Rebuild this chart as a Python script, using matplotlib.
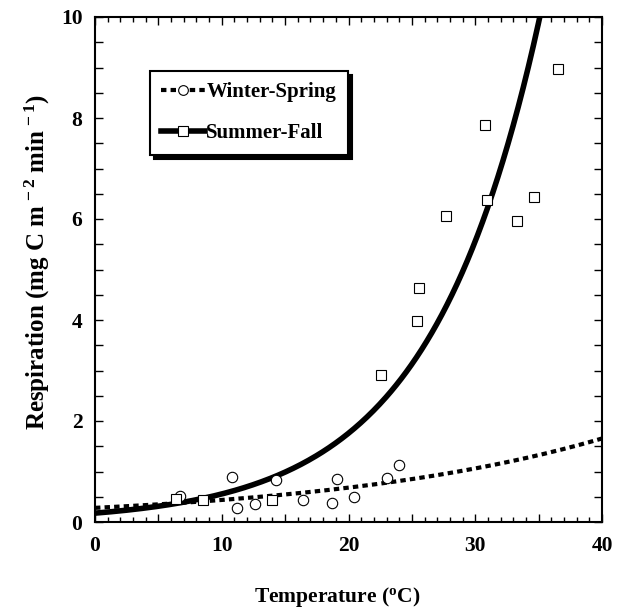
import numpy as np
import matplotlib
matplotlib.use("Agg")
import matplotlib.pyplot as plt
from matplotlib.ticker import MultipleLocator, FuncFormatter
from matplotlib.lines import Line2D

# ---- data ----
winter_temp = [6.7, 10.8, 11.2, 12.6, 14.3, 16.4, 18.7, 19.1, 20.4, 23.0, 24.0]
winter_resp = [0.51, 0.90, 0.28, 0.35, 0.835, 0.43, 0.37, 0.85, 0.50, 0.87, 1.12]

summer_temp = [6.4, 8.5, 14.0, 22.6, 25.4, 25.6, 27.7, 30.8, 30.9, 33.3, 34.6, 36.5]
summer_resp = [0.45, 0.43, 0.43, 2.91, 3.99, 4.63, 6.05, 7.86, 6.37, 5.97, 6.43, 8.98]

# exponential fits  R = a * exp(b * T)
winter_fit_a, winter_fit_b = 0.28, 0.0444
summer_fit_a, summer_fit_b = 0.1755, 0.1152

x_ticklabels = [0, 10, 20, 30, 40]
y_ticklabels = [0, 2, 4, 6, 8, 10]

# ---- fonts ----
plt.rcParams['font.family'] = ['Liberation Serif', 'DejaVu Serif']
plt.rcParams['font.weight'] = 'bold'
plt.rcParams['mathtext.fontset'] = 'custom'
plt.rcParams['mathtext.rm'] = 'Liberation Serif:bold'
plt.rcParams['mathtext.it'] = 'Liberation Serif:bold:italic'
plt.rcParams['mathtext.bf'] = 'Liberation Serif:bold'
plt.rcParams['mathtext.default'] = 'rm'

fig = plt.figure(figsize=(6.22, 6.10), dpi=100)
ax = fig.add_axes([95/622, (610-522)/610, 507/622, 505/610])

T = np.linspace(0, 40, 400)
ax.plot(T, winter_fit_a*np.exp(winter_fit_b*T), color='black', lw=3.0,
        linestyle=(0, (1.3, 1.0)), dash_capstyle='butt', zorder=2)
ax.plot(T, summer_fit_a*np.exp(summer_fit_b*T), color='black', lw=4.0,
        solid_capstyle='butt', zorder=2)

ax.plot(winter_temp, winter_resp, linestyle='none', marker='o', ms=7.5,
        mfc='white', mec='black', mew=0.8, zorder=3, clip_on=False)
ax.plot(summer_temp, summer_resp, linestyle='none', marker='s', ms=7,
        mfc='white', mec='black', mew=0.8, zorder=3, clip_on=False)

ax.set_xlim(0, 40)
ax.set_ylim(0, 10)

ax.xaxis.set_major_locator(MultipleLocator(5))
ax.xaxis.set_minor_locator(MultipleLocator(1))
ax.xaxis.set_major_formatter(FuncFormatter(
    lambda v, p: f"{int(round(v))}" if int(round(v)) in x_ticklabels else ""))
ax.yaxis.set_major_locator(MultipleLocator(0.5))
ax.yaxis.set_major_formatter(FuncFormatter(
    lambda v, p: f"{int(round(v))}" if abs(v - round(v)) < 1e-6 and int(round(v)) in y_ticklabels else ""))

ax.tick_params(which='both', direction='in', top=True, right=True, width=1.0)
ax.tick_params(which='major', length=6, labelsize=15.5, pad=10)
ax.tick_params(axis='x', which='minor', length=3.5)
ax.tick_params(axis='y', which='major', pad=9)
for lab in ax.get_xticklabels() + ax.get_yticklabels():
    lab.set_fontweight('bold')
for s in ax.spines.values():
    s.set_linewidth(1.5)

ax.text((337-95)/507, (522-597)/505, "Temperature ($^{\\mathrm{o}}$C)", transform=ax.transAxes,
        ha='center', va='center', fontsize=15.5, fontweight='bold')
ax.text((37-95)/507, (522-262)/505, "Respiration (mg C m$^{\\,-2}$ min$^{\\,-1}$)", transform=ax.transAxes,
        ha='center', va='center', rotation=90, fontsize=18, fontweight='bold')

h1 = Line2D([], [], color='black', lw=3.0, linestyle=(0, (1.3, 1.0)), dash_capstyle='butt',
            marker='o', ms=7, mfc='white', mec='black', mew=0.8)
h2 = Line2D([], [], color='black', lw=4.0, marker='s', ms=7, mfc='white', mec='black', mew=0.8)
leg = ax.legend([h1, h2], ["Winter-Spring", "Summer-Fall"], loc='upper left',
                bbox_to_anchor=((150-95)/507, (522-71)/505), borderaxespad=0,
                numpoints=1, handlelength=2.1, handletextpad=0.05, labelspacing=1.0,
                borderpad=0.55, fancybox=False, shadow={'color': 'black', 'alpha': 1, 'ox': 3, 'oy': -3},
                prop={'family': 'Liberation Serif', 'weight': 'bold', 'size': 15},
                framealpha=1)
leg.get_frame().set_edgecolor('black')
leg.get_frame().set_linewidth(1.5)

fig.savefig("out.png", dpi=100)
